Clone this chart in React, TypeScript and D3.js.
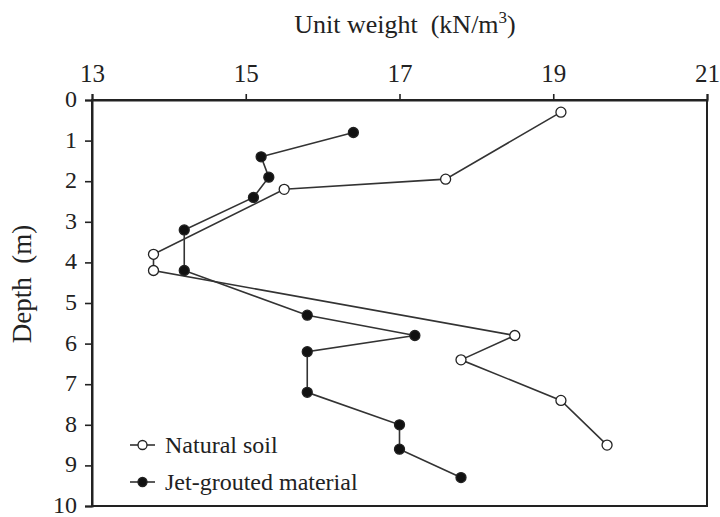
import React, { useEffect, useRef } from "react";
import * as d3 from "d3";

// Unit weight (kN/m³) versus depth (m)
const naturalWeight = [19.1, 17.6, 15.5, 13.8, 13.8, 18.5, 17.8, 19.1, 19.7];
const naturalDepth = [0.3, 1.95, 2.2, 3.8, 4.2, 5.8, 6.4, 7.4, 8.5];

const groutWeight = [16.4, 15.2, 15.3, 15.1, 14.2, 14.2, 15.8, 17.2, 15.8, 15.8, 17.0, 17.0, 17.8];
const groutDepth = [0.8, 1.4, 1.9, 2.4, 3.2, 4.2, 5.3, 5.8, 6.2, 7.2, 8.0, 8.6, 9.3];

const weightTicks = [13, 15, 17, 19, 21];
const depthTicks = [0, 1, 2, 3, 4, 5, 6, 7, 8, 9, 10];

const seriesNames = ["Natural soil", "Jet-grouted material"];

const W = 720;
const H = 517;
const margin = { left: 92, right: 13, top: 100, bottom: 11 };
const FONT = "'Liberation Serif', 'Times New Roman', serif";
const INK = "#222";

export default function App() {
  const ref = useRef<SVGSVGElement | null>(null);

  useEffect(() => {
    const svg = d3.select(ref.current);
    svg.selectAll("*").remove();

    const x = d3.scaleLinear().domain([13, 21]).range([margin.left, W - margin.right]);
    const y = d3.scaleLinear().domain([0, 10]).range([margin.top, H - margin.bottom]);

    const g = svg.append("g");

    // frame
    g.append("rect")
      .attr("x", x(13))
      .attr("y", y(0))
      .attr("width", x(21) - x(13))
      .attr("height", y(10) - y(0))
      .attr("fill", "none")
      .attr("stroke", INK)
      .attr("stroke-width", 2);

    const top = g
      .append("g")
      .attr("transform", `translate(0,${y(0)})`)
      .call(d3.axisTop(x).tickValues(weightTicks).tickSize(6).tickPadding(12).tickFormat(d3.format("d")));
    const left = g
      .append("g")
      .attr("transform", `translate(${x(13)},0)`)
      .call(d3.axisLeft(y).tickValues(depthTicks).tickSize(7).tickPadding(8).tickFormat(d3.format("d")));

    [top, left].forEach((ax) => {
      ax.select(".domain").attr("stroke", INK).attr("stroke-width", 2);
      ax.selectAll(".tick line").attr("stroke", INK).attr("stroke-width", 1.6);
      ax.selectAll(".tick text")
        .attr("fill", INK)
        .style("font-family", FONT)
        .style("font-size", "25px");
    });
    left.selectAll(".tick text").style("font-size", "24px").attr("dy", "0.27em");

    // axis titles
    const title = g
      .append("text")
      .attr("x", 405)
      .attr("y", 33)
      .attr("text-anchor", "middle")
      .style("font-family", FONT)
      .style("font-size", "26px")
      .style("white-space", "pre")
      .attr("fill", INK);
    title.append("tspan").text("Unit weight  (kN/m");
    title.append("tspan").attr("dy", -10).style("font-size", "17px").text("3");
    title.append("tspan").attr("dy", 10).text(")");

    g.append("text")
      .attr("transform", `translate(31,${284}) rotate(-90)`)
      .attr("text-anchor", "middle")
      .style("font-family", FONT)
      .style("font-size", "27px")
      .style("white-space", "pre")
      .attr("fill", INK)
      .text("Depth  (m)");

    const line = d3
      .line<[number, number]>()
      .x((d) => x(d[0]))
      .y((d) => y(d[1]));

    const natural: [number, number][] = naturalWeight.map((v, i) => [v, naturalDepth[i]]);
    const grout: [number, number][] = groutWeight.map((v, i) => [v, groutDepth[i]]);

    [
      { pts: natural, fill: "#fff" },
      { pts: grout, fill: "#111" },
    ].forEach((s) => {
      g.append("path")
        .datum(s.pts)
        .attr("d", line)
        .attr("fill", "none")
        .attr("stroke", "#333")
        .attr("stroke-width", 1.6);
      g.selectAll(null)
        .data(s.pts)
        .enter()
        .append("circle")
        .attr("cx", (d) => x(d[0]))
        .attr("cy", (d) => y(d[1]))
        .attr("r", 5)
        .attr("fill", s.fill)
        .attr("stroke", "#222")
        .attr("stroke-width", 1.3);
    });

    // legend
    const legend = g.append("g").attr("transform", "translate(130,445)");
    seriesNames.forEach((name, i) => {
      const row = legend.append("g").attr("transform", `translate(0,${i * 37})`);
      row.append("line").attr("x1", 0).attr("x2", 25).attr("y1", 0).attr("y2", 0).attr("stroke", "#333").attr("stroke-width", 1.6);
      row.append("circle")
        .attr("cx", 12.5)
        .attr("cy", 0)
        .attr("r", 4.5)
        .attr("fill", i === 0 ? "#fff" : "#111")
        .attr("stroke", "#222")
        .attr("stroke-width", 1.3);
      row.append("text")
        .attr("x", 35)
        .attr("y", 8)
        .style("font-family", FONT)
        .style("font-size", "24px")
        .attr("fill", INK)
        .text(name);
    });
  }, []);

  return (
    <svg
      ref={ref}
      width={W}
      height={H}
      style={{ position: "absolute", left: 0, top: 0, background: "#fff", display: "block" }}
    />
  );
}
